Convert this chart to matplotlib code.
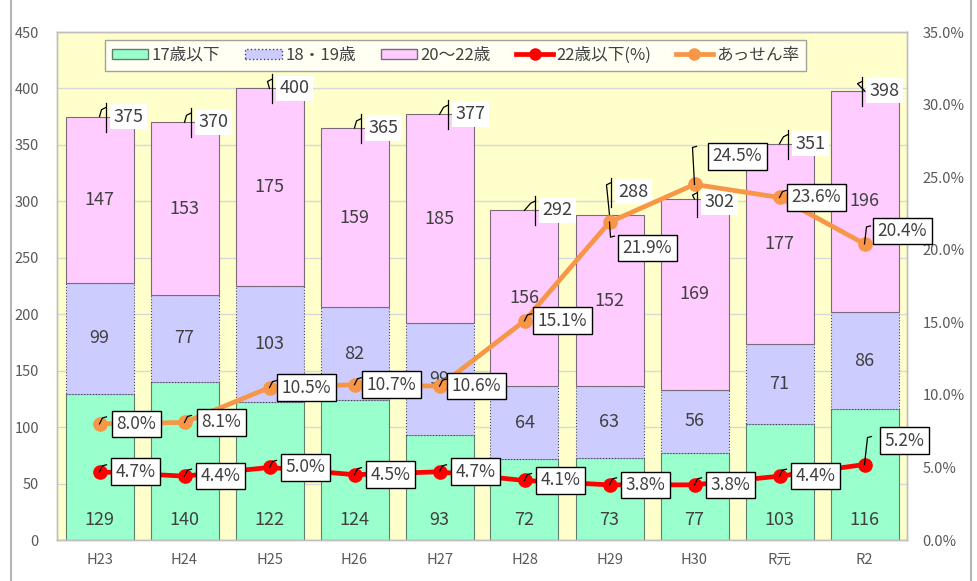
import matplotlib.pyplot as plt
import matplotlib.transforms as mtransforms
from matplotlib.patches import Rectangle, Patch
from matplotlib.lines import Line2D

plt.rcParams['font.family'] = ['Noto Sans CJK JP', 'DejaVu Sans']

# ── データ ─────────────────────────────────────────────
years = ["H23", "H24", "H25", "H26", "H27", "H28", "H29", "H30", "R元", "R2"]
age17 = [129, 140, 122, 124, 93, 72, 73, 77, 103, 116]
age1819 = [99, 77, 103, 82, 99, 64, 63, 56, 71, 86]
age2022 = [147, 153, 175, 159, 185, 156, 152, 169, 177, 196]
totals = [375, 370, 400, 365, 377, 292, 288, 302, 351, 398]
rate22 = [4.7, 4.4, 5.0, 4.5, 4.7, 4.1, 3.8, 3.8, 4.4, 5.2]
assen = [8.0, 8.1, 10.5, 10.7, 10.6, 15.1, 21.9, 24.5, 23.6, 20.4]

# ── ラベル位置の調整（ピクセル, 上が正） ─────────────────
total_off = [(29, 0), (29, 0), (25, 0), (29, 0), (31, 0), (33, 0),
             (24, 23), (25, -3), (31, 0), (20, 0)]
assen_off = {5: (38, 0), 6: (38, -26), 7: (43, 28), 8: (37, 0), 9: (38, 13)}
assen_lead = {6: (1, -15), 7: (-2, 37), 9: (2, 17)}
rate_off = {9: (40, 24)}
rate_lead = {9: (3, 27)}

TXT = "#404040"
TICK = "#595959"
NUM = 13

fig = plt.figure(figsize=(9.78, 5.81), dpi=100)
ax = fig.add_axes([57 / 978, 41 / 581, 850 / 978, 508 / 581])
ax2 = ax.twinx()

# 外枠
fig.patches.append(Rectangle((11 / 978, -0.01), 960 / 978, 1.02, transform=fig.transFigure,
                             fill=False, edgecolor="#a6a6a6", lw=1.2))

ax.set_facecolor("#FFFFCC")
ax.set_zorder(ax2.get_zorder() - 1)
ax2.patch.set_visible(False)

x = list(range(len(years)))
w = 0.8
ax.bar(x, age17, w, color="#99FFCC", edgecolor="#5f7f6f", lw=0.8, zorder=2)
bot2 = age17
ax.bar(x, age1819, w, bottom=bot2, color="#CCCCFF", edgecolor="#444466",
       lw=0.8, linestyle=":", zorder=2)
bot3 = [a + b for a, b in zip(age17, age1819)]
ax.bar(x, age2022, w, bottom=bot3, color="#FFCCFF", edgecolor="#7a6a7a",
       lw=0.8, zorder=2)

ax.set_ylim(0, 450)
ax.set_xlim(-0.5, 9.5)
ax2.set_ylim(0, 35)


def leader(a, xv, yv, pts, z=7):
    tr = mtransforms.ScaledTranslation(xv, yv, a.transData)
    xs, ys = zip(*pts)
    a.add_line(Line2D(xs, ys, transform=tr, color="black", lw=0.9, zorder=z,
                      clip_on=False))


for i in x:
    ax.text(i, 18, str(age17[i]), ha="center", va="center",
            fontsize=NUM, color=TXT, zorder=3)
    ax.text(i, bot2[i] + age1819[i] / 2, str(age1819[i]), ha="center", va="center",
            fontsize=NUM, color=TXT, zorder=3)
    ax.text(i, bot3[i] + age2022[i] / 2, str(age2022[i]), ha="center", va="center",
            fontsize=NUM, color=TXT, zorder=3)
    dx, dy = total_off[i]
    ax.annotate(str(totals[i]), xy=(i, totals[i]), xytext=(dx, dy),
                textcoords="offset pixels", ha="center", va="center",
                fontsize=NUM, color=TXT, zorder=4,
                bbox=dict(boxstyle="square,pad=0.2", fc="white", ec="none"))
    vx = dx - 23
    leader(ax, i, totals[i], [(0, 0), (vx - 4, dy + 7), (vx, dy + 9)], z=5)
    leader(ax, i, totals[i], [(vx, dy + 14), (vx, dy - 15)], z=5)

ax.set_yticks(range(0, 451, 50))
ax.set_xticks(x)
ax.set_xticklabels(years)
ax.grid(axis="y", color="#d9d9d9", lw=1, zorder=0)
ax.set_axisbelow(True)

ax2.set_yticks(range(0, 36, 5))
ax2.set_yticklabels([f"{v:.1f}%" for v in range(0, 36, 5)])

ax2.plot(x, assen, color="#F79646", lw=3.4, marker="o", ms=9.5, zorder=5)
ax2.plot(x, rate22, color="#FF0000", lw=3.4, marker="o", ms=9.5, zorder=5)

for vals, offs, leads, base in ((assen, assen_off, assen_lead, 37),
                                (rate22, rate_off, rate_lead, 36)):
    for i, v in enumerate(vals):
        dx, dy = offs.get(i, (base, 0))
        ax2.annotate(f"{v:.1f}%", xy=(i, v), xytext=(dx, dy),
                     textcoords="offset pixels", ha="center", va="center",
                     fontsize=12.5, color=TXT, zorder=6,
                     bbox=dict(boxstyle="square,pad=0.25", fc="white", ec="black", lw=1))
        ex, ey = leads.get(i, (3, 6))
        leader(ax2, i, v, [(0, 0), (ex, ey), (ex + 4, ey + 1)])

for a in (ax, ax2):
    a.tick_params(length=0, labelsize=10.5, colors=TICK)
    for s in a.spines.values():
        s.set_color("#bfbfbf")
        s.set_linewidth(1)
ax.tick_params(axis="y", pad=13)
ax.tick_params(axis="x", pad=9)
ax2.tick_params(axis="y", pad=11)

handles = [
    Patch(fc="#99FFCC", ec="#5f7f6f", label="17歳以下"),
    Patch(fc="#CCCCFF", ec="#444466", ls=":", label="18・19歳"),
    Patch(fc="#FFCCFF", ec="#7a6a7a", label="20～22歳"),
    Line2D([], [], color="#FF0000", lw=3.4, marker="o", ms=8, label="22歳以下(%)"),
    Line2D([], [], color="#F79646", lw=3.4, marker="o", ms=8, label="あっせん率"),
]
leg = ax2.legend(handles=handles, loc="upper left", bbox_to_anchor=(48 / 850, 0.984),
                 borderaxespad=0, ncol=5, fontsize=12, frameon=True, fancybox=False,
                 edgecolor="#8c8c8c", handlelength=2.2, handleheight=0.6,
                 columnspacing=1.5, borderpad=0.4, handletextpad=0.2)
leg.get_frame().set_linewidth(1)
leg.set_zorder(10)
for t in leg.get_texts():
    t.set_color(TXT)

fig.savefig("out.png", dpi=100)
